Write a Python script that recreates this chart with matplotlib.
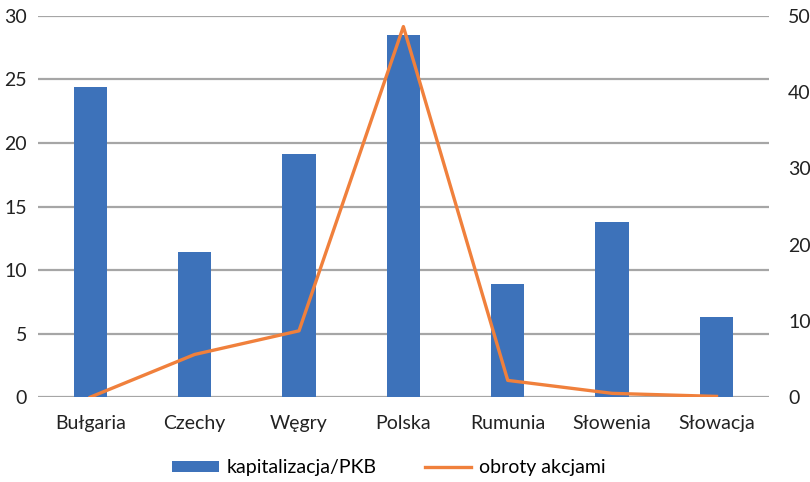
import matplotlib
matplotlib.use("Agg")
from matplotlib import pyplot as plt
import numpy as np

plt.rcParams['font.family'] = ['Lato', 'DejaVu Sans']

kraje = ["Bułgaria", "Czechy", "Węgry", "Polska", "Rumunia", "Słowenia", "Słowacja"]
kapitalizacja = [24.4, 11.4, 19.1, 28.5, 8.9, 13.8, 6.3]
obroty = [0.0, 5.6, 8.7, 48.6, 2.2, 0.5, 0.1]

niebieski = "#3D72BA"
pomaranczowy = "#F0803C"
szary = "#A6A6A6"

fig = plt.figure(figsize=(8.1, 4.82), dpi=100)
ax = fig.add_axes([0.047, 0.176, 0.902, 0.791])
ax2 = ax.twinx()

x = np.arange(len(kraje))
ax.bar(x, kapitalizacja, width=0.32, color=niebieski, label="kapitalizacja/PKB", zorder=2)
ax2.plot(x, obroty, color=pomaranczowy, lw=2.4, label="obroty akcjami", zorder=3)

ax.set_ylim(0, 30)
ax.set_yticks(range(0, 31, 5))
ax2.set_ylim(0, 50)
ax2.set_yticks(range(0, 51, 10))
ax.set_xlim(-0.5, len(kraje) - 0.5)
ax.set_xticks(x)
ax.set_xticklabels(kraje)

ax.grid(axis="y", color=szary, lw=1.6, zorder=0)
ax.set_axisbelow(True)
for a in (ax, ax2):
    for s in a.spines.values():
        s.set_visible(False)
    a.tick_params(length=0, labelsize=14, colors="#222222")
ax.tick_params(axis="x", pad=13)
ax.tick_params(axis="y", pad=8)
ax2.tick_params(axis="y", pad=14)

h1, l1 = ax.get_legend_handles_labels()
h2, l2 = ax2.get_legend_handles_labels()
fig.legend(h1 + h2, l1 + l2, loc="center", bbox_to_anchor=(0.48, 0.03), ncol=2,
           frameon=False, fontsize=14, handlelength=2.4, handleheight=0.5,
           columnspacing=2.5, handletextpad=0.37, borderpad=0)

plt.savefig("out.png", dpi=100)
